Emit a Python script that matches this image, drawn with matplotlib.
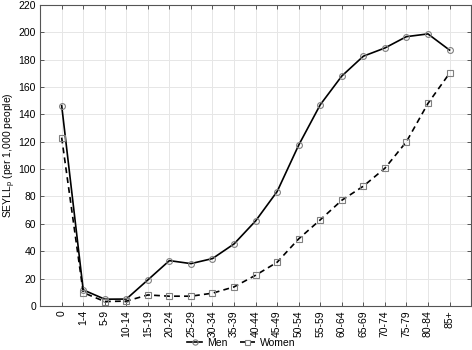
import matplotlib

matplotlib.use("Agg")

import matplotlib.pyplot as plt

age_groups = ["0", "1-4", "5-9", "10-14", "15-19", "20-24", "25-29", "30-34", "35-39",
              "40-44", "45-49", "50-54", "55-59", "60-64", "65-69", "70-74", "75-79",
              "80-84", "85+"]
men = [146.4, 11.7, 4.9, 5.0, 19.0, 33.1, 30.9, 34.6, 45.3, 62.1, 83.6, 117.5, 147.0,
       168.0, 182.5, 188.5, 196.8, 198.8, 187.0]
women = [123.0, 9.7, 3.2, 3.5, 8.0, 7.1, 7.1, 9.3, 13.9, 22.4, 31.9, 49.0, 62.9,
         77.2, 87.5, 100.6, 120.0, 148.0, 170.0]
y_ticks = list(range(0, 221, 20))

plt.rcParams["font.family"] = ["Liberation Sans", "DejaVu Sans"]
plt.rcParams["font.size"] = 7.5

fig = plt.figure(figsize=(4.72, 3.5), dpi=100)
fig.patch.set_facecolor("white")
ax = fig.add_axes([0.085, 0.126, 0.913, 0.860])

x = list(range(len(age_groups)))
ax.plot(x, men, color="black", linewidth=1.2, marker="o", markersize=4.2,
        markerfacecolor="none", markeredgecolor="#808080", markeredgewidth=0.8,
        label="Men")
ax.plot(x, women, color="black", linewidth=1.2, linestyle=(0, (3.5, 2.5)), marker="s",
        markersize=4, markerfacecolor="none", markeredgecolor="#808080",
        markeredgewidth=0.8, label="Women")

ax.set_xlim(-1, len(age_groups))
ax.set_ylim(0, 220)
ax.set_xticks(x)
ax.set_xticklabels(age_groups, rotation=90)
ax.set_yticks(y_ticks)
ax.grid(True, color="#E6E6E6", linewidth=0.7)
ax.set_axisbelow(True)
ax.tick_params(direction="in", top=True, right=True, length=3, width=0.7,
               color="#555555", labelsize=7.5, pad=3)
for spine in ax.spines.values():
    spine.set_color("#555555")
    spine.set_linewidth(0.8)

ax.set_ylabel("SEYLL$_\\mathregular{p}$ (per 1,000 people)", fontsize=7.5)
ax.yaxis.set_label_coords(-0.052, 0.5)

ax.legend(loc="center", bbox_to_anchor=(0.467, -0.122), ncol=2, frameon=False,
          fontsize=7.5, handlelength=1.4, handletextpad=0.5, columnspacing=1.2,
          borderaxespad=0, markerscale=0.9)

fig.savefig("out.png", dpi=100)
plt.close(fig)
